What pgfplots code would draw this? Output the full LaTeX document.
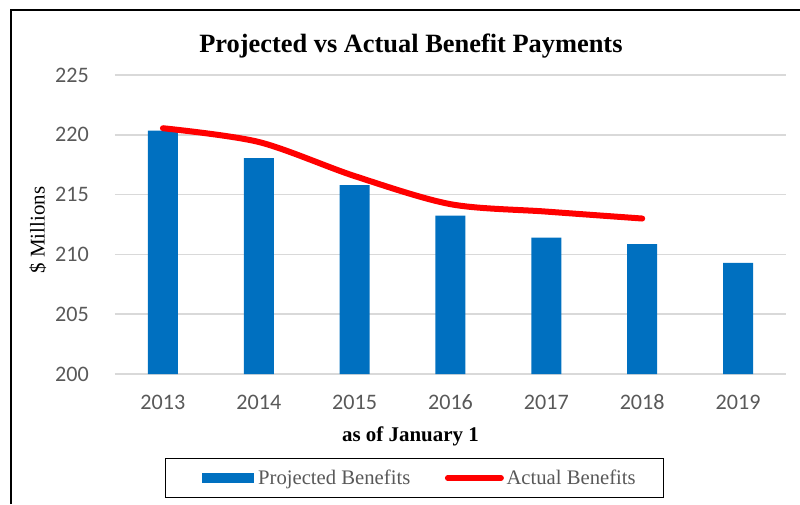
\documentclass[border=0pt]{standalone}
\usepackage{fontspec}
\usepackage{pgfplots}
\pgfplotsset{compat=1.18}
\setmainfont{Liberation Serif}
\newfontfamily\calibri{Carlito}
\definecolor{barblue}{HTML}{0070C0}
\definecolor{linered}{HTML}{FF0000}
\definecolor{txtgray}{HTML}{595959}
\definecolor{gridgray}{HTML}{D9D9D9}
\begin{document}
\begin{tikzpicture}
\begin{axis}[
  at={(0,0)}, anchor=south west,
  scale only axis,
  width=503.25pt, height=224.25pt,
  xmin=-0.5, xmax=6.5,
  ymin=200, ymax=225,
  ytick={200,205,210,215,220,225},
  xtick={0,1,2,3,4,5,6},
  xticklabels={2013,2014,2015,2016,2017,2018,2019},
  axis line style={draw=none},
  major tick length=0pt,
  ymajorgrids,
  grid style={color=gridgray, line width=1.1pt},
  /pgf/number format/assume math mode=true,
  tick label style={font=\calibri\fontsize{16.6}{20}\selectfont, text=txtgray, inner sep=0pt},
  yticklabel style={xshift=-19.5pt},
  xticklabel style={anchor=base, yshift=-26.25pt},
  every axis title shift=0pt,
  title={Projected vs Actual Benefit Payments},
  title style={font=\bfseries\fontsize{19.8}{23}\selectfont, at={(axis description cs:0.441,1.075)}, anchor=base, inner sep=0pt},
  xlabel={as of January 1},
  xlabel style={font=\bfseries\fontsize{15.7}{19}\selectfont, at={(axis description cs:0.4404,-0.2274)}, anchor=base, inner sep=0pt},
  ylabel={\$ Millions},
  ylabel style={font=\fontsize{15.7}{19}\selectfont, at={(axis description cs:-0.1148,0.4816)}, anchor=center, inner sep=0pt},
  legend columns=2,
  legend style={at={(axis description cs:0.4465,-0.348)}, anchor=center,
    draw=black, line width=1.1pt, font=\fontsize{15.5}{18}\selectfont, text=txtgray,
    inner xsep=19pt, inner ysep=6.5pt,
    /tikz/every even column/.append style={column sep=24pt}},
]
\addplot[ybar, bar width=22.5pt, fill=barblue, draw=none,
  legend image code/.code={\fill[barblue] (0pt,-3.75pt) rectangle (39pt,3.75pt); \path[draw=none, fill=none] (-8.5pt,0pt) -- (40pt,0pt);}]
  coordinates {(0,220.35) (1,218.05) (2,215.8) (3,213.25) (4,211.4) (5,210.85) (6,209.3)};
\addlegendentry{Projected Benefits}
\addplot[linered, line width=4.5pt, smooth, line cap=round,
  legend image code/.code={\draw[linered, line width=4.2pt, line cap=round] (0pt,0pt) -- (40pt,0pt); \path[draw=none, fill=none] (0pt,0pt) -- (41pt,0pt);}]
  coordinates {(0,220.55) (1,219.4) (2,216.55) (3,214.2) (4,213.58) (5,213.0)};
\addlegendentry{Actual Benefits}
\end{axis}
\begin{scope}[x=0.75pt, y=-0.75pt, shift={(-86.25pt,280.5pt)}]
\draw[line width=1.6pt, black] (11,504) -- (11,10) -- (800,10);
\end{scope}
\pgfresetboundingbox
\path[use as bounding box, x=0.75pt, y=-0.75pt, shift={(-86.25pt,280.5pt)}] (0,0) rectangle (800,504);
\end{tikzpicture}
\end{document}
